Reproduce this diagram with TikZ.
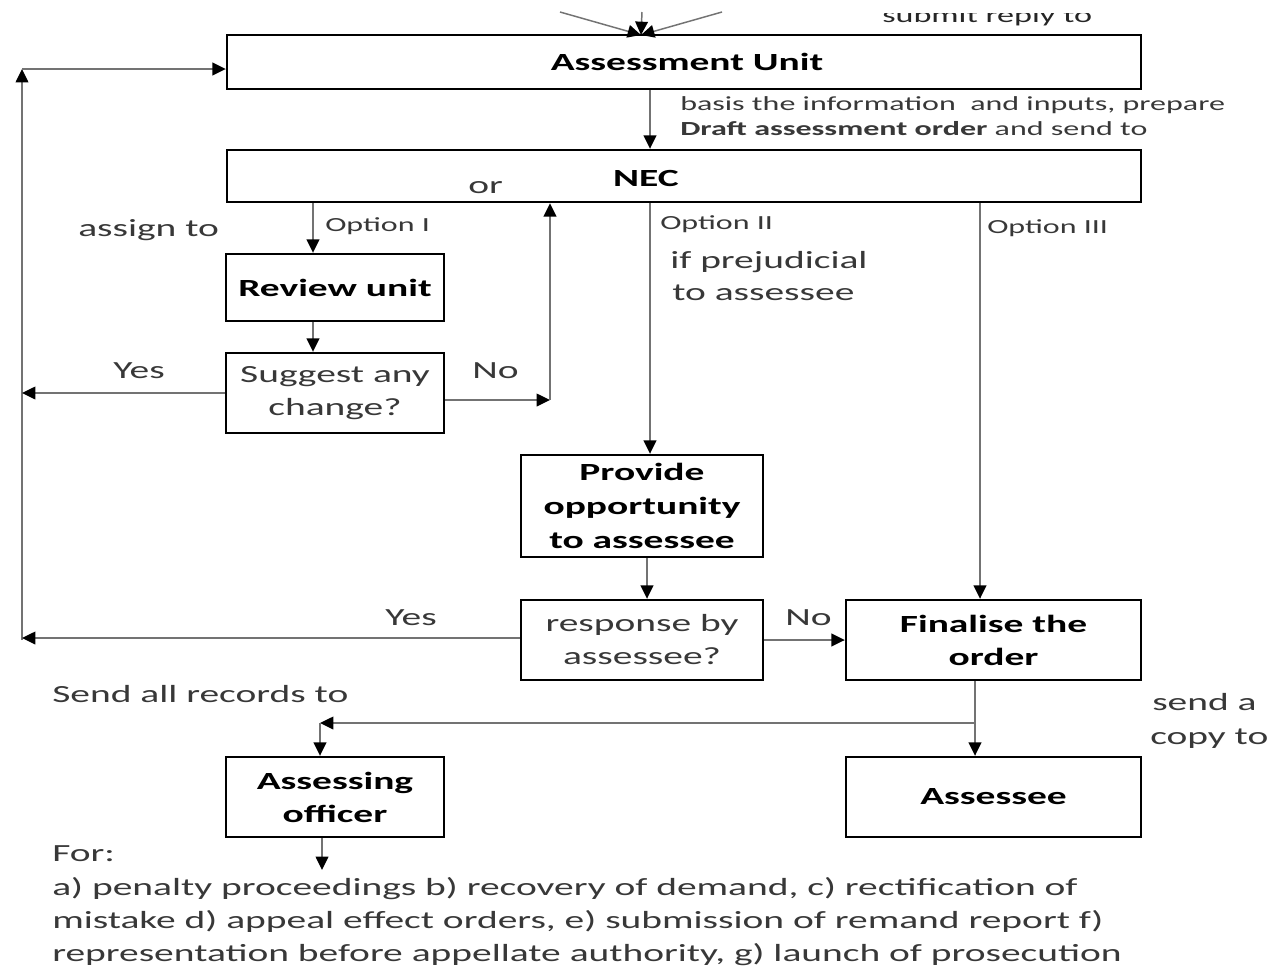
\documentclass[tikz,border=0pt]{standalone}
\usepackage{fontspec}
\setmainfont[FakeStretch=1.6]{Carlito}
\usetikzlibrary{arrows.meta,calc}
\tikzset{
  box/.style={draw=black, line width=1.8pt, fill=white, inner sep=0pt, align=center,
              text=black, font=\fontsize{18.5}{24.75}\selectfont},
  boldtxt/.style={font=\fontsize{18.5}{24.75}\selectfont\bfseries},
  lbl/.style={inner sep=0pt, anchor=base west, text=black!78, font=\fontsize{18.5}{24.75}\selectfont},
  small/.style={inner sep=0pt, anchor=base west, text=black!78, font=\fontsize{15}{20}\selectfont},
  arr/.style={draw=black!55, line width=1.1pt, -{Triangle[length=10pt,width=9.5pt,black]}},
}
\begin{document}
\begin{tikzpicture}[x=0.75pt,y=-0.75pt]
\useasboundingbox (0,0) rectangle (1272,968);
\clip (0,0) rectangle (1272,968);
\fill[white] (0,0) rectangle (1272,968);

% boxes
\node[box, minimum width=685.5pt, minimum height=40.5pt] (AU) at (684,62) {};
\node[boldtxt, inner sep=0pt] (AUt) at (687,62) {Assessment Unit};
\node[box, minimum width=685.5pt, minimum height=39pt] (NEC) at (684,176) {};
\node[boldtxt, inner sep=0pt, anchor=base] (NECt) at (646,186) {NEC};
\node[box, minimum width=163.5pt, minimum height=50.25pt, font=\fontsize{18.5}{24.75}\selectfont\bfseries] (RU) at (335,287.5) {Review unit};
\node[box, minimum width=163.5pt, minimum height=60pt, text=black!78] (SC) at (335,393) {Suggest any\\change?};
\node[box, minimum width=181.5pt, minimum height=76.5pt, font=\fontsize{18.5}{25.5}\selectfont\bfseries] (PO) at (642,506) {Provide\\opportunity\\to assessee};
\node[box, minimum width=181.5pt, minimum height=60pt, text=black!78] (RB) at (642,640) {response by\\assessee?};
\node[box, minimum width=221.25pt, minimum height=60pt, font=\fontsize{18.5}{24.75}\selectfont\bfseries] (FO) at (993.5,640) {Finalise the\\order};
\node[box, minimum width=163.5pt, minimum height=60pt, font=\fontsize{18.5}{24.75}\selectfont\bfseries] (AO) at (335,797) {Assessing\\officer};
\node[box, minimum width=221.25pt, minimum height=60pt, font=\fontsize{18.5}{24.75}\selectfont\bfseries] (AS) at (993.5,797) {Assessee};

% helper coordinates
\coordinate (t1) at (560,12);
\coordinate (t2) at (642,12);
\coordinate (t3) at (722,12);
\coordinate (auin) at (641,35);
\coordinate (x650) at (650,0);
\coordinate (x313) at (313,0);
\coordinate (x647) at (647,0);
\coordinate (x980) at (980,0);
\coordinate (L) at (22,69);
\coordinate (n1) at (550,400);
\coordinate (br) at (975,723);
\coordinate (c320) at (320,723);
\coordinate (forend) at (322,870);

% top incoming arrows
\draw[arr] (t1) -- (auin);
\draw[arr] (t2) -- (auin);
\draw[arr] (t3) -- (auin);

% AU -> NEC
\draw[arr] (x650 |- AU.south) -- (x650 |- NEC.north);

% left feedback loop
\draw[arr] (22,640) -- (L);
\draw[arr] (L) -- (L -| AU.west);
\draw[arr] (SC.west) -- (L |- SC.west);
\draw[arr] (RB.west |- 0,638) -- (22,638);

% Option I
\draw[arr] (x313 |- NEC.south) -- (x313 |- RU.north);
\draw[arr] (x313 |- RU.south) -- (x313 |- SC.north);
% No -> back to NEC
\draw[arr] (n1 -| SC.east) -- (n1);
\draw[arr] (n1) -- (n1 |- NEC.south);

% Option II
\draw[arr] (x650 |- NEC.south) -- (x650 |- PO.north);
\draw[arr] (x647 |- PO.south) -- (x647 |- RB.north);
\draw[arr] (RB.east) -- (FO.west);

% Option III
\draw[arr] (x980 |- NEC.south) -- (x980 |- FO.north);

% Finalise -> outputs
\draw[arr] (br |- FO.south) -- (br |- AS.north);
\draw[arr] (br) -- (c320);
\draw[arr] (c320) -- (c320 |- AO.north);
\draw[arr] (forend |- AO.south) -- (forend);

% labels
\begin{scope}
\clip (0,13) rectangle (1272,968);
\node[small, text=black!85, font=\fontsize{16}{20}\selectfont] (sub) at (882,22) {submit reply to};
\end{scope}
\node[small] (basis1) at (680,110) {basis the information\ \ and inputs, prepare};
\node[small] (basis2) at (680,135) {\textbf{Draft assessment order} and send to};
\node[lbl] (or) at (468,193) {or};
\node[small] (op1) at (325,231) {Option I};
\node[lbl] (asg) at (78,236) {assign to};
\node[small] (op2) at (660,229) {Option II};
\node[small] (op3) at (987,233) {Option III};
\node[lbl] (pre1) at (670,268) {if prejudicial};
\node[lbl] (pre2) at (672,300) {to assessee};
\node[lbl] (yes1) at (113,378) {Yes};
\node[lbl] (no1) at (472,378) {No};
\node[lbl] (yes2) at (385,625) {Yes};
\node[lbl] (no2) at (785,625) {No};
\node[lbl] (sar) at (52,702) {Send all records to};
\node[lbl] (sa1) at (1152,710) {send a};
\node[lbl] (sa2) at (1150,744) {copy to};
\node[lbl] (for) at (52,861) {For:};
\node[lbl] (p1) at (52,895) {a) penalty proceedings b) recovery of demand, c) rectification of};
\node[lbl] (p2) at (52,928) {mistake d) appeal effect orders, e) submission of remand report f)};
\node[lbl] (p3) at (52,961) {representation before appellate authority, g) launch of prosecution};
\end{tikzpicture}
\end{document}
